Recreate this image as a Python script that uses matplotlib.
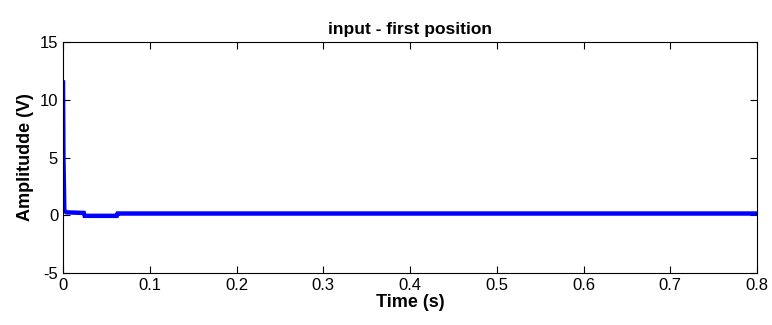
import matplotlib
matplotlib.use("Agg")
import matplotlib.pyplot as plt

# signal
time_s = [0.0, 0.0005, 0.0015, 0.004, 0.024, 0.025, 0.062, 0.063, 0.8]
amp_v = [11.5, 5.0, 0.4, 0.25, 0.2, -0.05, -0.05, 0.15, 0.15]
xticks = [0, 0.1, 0.2, 0.3, 0.4, 0.5, 0.6, 0.7, 0.8]
yticks = [-5, 0, 5, 10, 15]

plt.rcParams['font.family'] = ['Liberation Sans', 'DejaVu Sans']
plt.rcParams['axes.unicode_minus'] = False

fig = plt.figure(figsize=(7.72, 3.25), dpi=100)
ax = fig.add_axes([63/772, 1 - 273/325, (757-63)/772, (273-42)/325])

ax.plot(time_s, amp_v, color='#0000ff', linewidth=3.2, solid_joinstyle='miter')

ax.set_xlim(0, 0.8)
ax.set_ylim(-5, 15)
ax.set_xticks(xticks)
ax.set_xticklabels(['0', '0.1', '0.2', '0.3', '0.4', '0.5', '0.6', '0.7', '0.8'])
ax.set_yticks(yticks)
ax.tick_params(direction='in', length=5, labelsize=12, top=True, right=True, width=0.8)
for s in ax.spines.values():
    s.set_linewidth(0.8)

ax.set_xlabel('Time (s)', fontsize=13, fontweight='bold', labelpad=1)
ax.set_ylabel('Amplitudde (V)', fontsize=13, fontweight='bold', labelpad=4)
ax.set_title('input - first position', fontsize=12.5, fontweight='bold', pad=6)

fig.savefig('out.png', dpi=100)
